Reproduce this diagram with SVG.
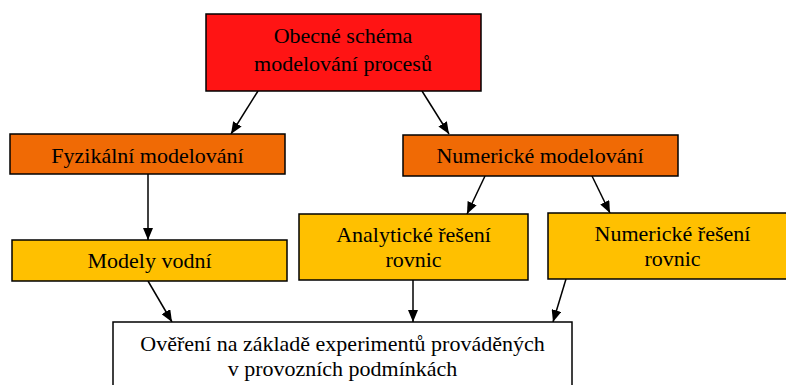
<svg xmlns="http://www.w3.org/2000/svg" width="786" height="385" viewBox="0 0 786 385">
<defs>
<marker id="arr" viewBox="0 0 12 10" refX="12" refY="5" markerWidth="12" markerHeight="10" markerUnits="userSpaceOnUse" orient="auto">
<path d="M0,0 L12,5 L0,10 Z" fill="#000"/>
</marker>
<style>
rect{stroke:#000;stroke-width:1.5}
.red{fill:#FF1414}
.org{fill:#F06A05}
.yel{fill:#FFC000}
.wht{fill:#fff}
text{font-family:"Liberation Serif","Times New Roman",serif;font-size:22px;fill:#000;text-anchor:middle}
#connectors line{stroke:#000;stroke-width:1.5;marker-end:url(#arr)}
</style>
</defs>
<rect width="786" height="385" fill="#fff" style="stroke:none"/>
<g id="connectors">
<line x1="258" y1="91" x2="231" y2="134"/>
<line x1="422" y1="91" x2="449" y2="134"/>
<line x1="148" y1="174" x2="148" y2="240"/>
<line x1="485" y1="176" x2="467" y2="214"/>
<line x1="592" y1="176" x2="610" y2="213"/>
<line x1="148" y1="281" x2="172" y2="322"/>
<line x1="413" y1="280" x2="413" y2="322"/>
<line x1="566" y1="279" x2="553" y2="322"/>
</g>
<g id="top">
<rect class="red" x="206" y="14" width="275" height="77"/>
<text x="343" y="43">Obecné schéma</text>
<text x="343" y="71">modelování procesů</text>
</g>
<g id="fyzikalni">
<rect class="org" x="10" y="134" width="275" height="40"/>
<text x="147.5" y="163">Fyzikální modelování</text>
</g>
<g id="numericke-modelovani">
<rect class="org" x="403" y="135" width="275" height="41"/>
<text x="540" y="163">Numerické modelování</text>
</g>
<g id="modely">
<rect class="yel" x="12" y="240" width="275" height="41"/>
<text x="149.5" y="268">Modely vodní</text>
</g>
<g id="analyticke">
<rect class="yel" x="299" y="214" width="229" height="66"/>
<text x="413.5" y="242">Analytické řešení</text>
<text x="413.5" y="267">rovnic</text>
</g>
<g id="numericke-reseni">
<rect class="yel" x="548" y="213" width="249" height="66"/>
<text x="672.5" y="241">Numerické řešení</text>
<text x="672.5" y="266">rovnic</text>
</g>
<g id="overeni">
<rect class="wht" x="113" y="322" width="459" height="80"/>
<text x="342.5" y="351">Ověření na základě experimentů prováděných</text>
<text x="342.5" y="376">v provozních podmínkách</text>
</g>
</svg>
